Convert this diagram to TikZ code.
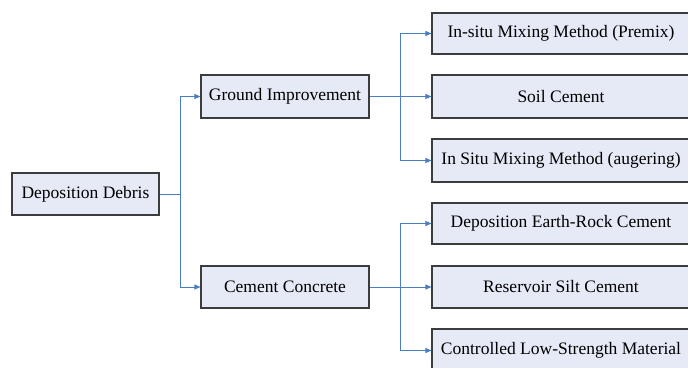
\documentclass[tikz,border=0pt]{standalone}
\usepackage{fontspec}
\setmainfont{Liberation Serif}
\usetikzlibrary{arrows.meta}
\definecolor{boxfill}{HTML}{E6EAF6}
\definecolor{boxline}{HTML}{3C3C3C}
\definecolor{connc}{HTML}{4A7EC0}
\begin{document}
\begin{tikzpicture}[x=1pt,y=-1pt,
  box/.style={draw=boxline, line width=1.1pt, fill=boxfill, inner sep=0pt,
    font=\fontsize{17.5}{20}\selectfont},
  conn/.style={draw=connc, line width=0.9pt},
  arr/.style={conn, -{Triangle[length=6pt,width=5pt]}}]
\useasboundingbox (0,0) rectangle (688,367);
\clip (0,0) rectangle (688,367);
\node[box, minimum width=147pt, minimum height=42pt] (dd) at (85.5,194) {Deposition Debris};
\node[box, minimum width=168pt, minimum height=43pt] (gi) at (285,96.5) {Ground Improvement};
\node[box, minimum width=168pt, minimum height=42pt] (cc) at (285,287) {Cement Concrete};
\node[box, minimum width=258pt, minimum height=41pt] (r1) at (561,33.5) {In-situ Mixing Method (Premix)};
\node[box, minimum width=258pt, minimum height=43pt] (r2) at (561,96.5) {Soil Cement};
\node[box, minimum width=258pt, minimum height=43pt] (r3) at (561,160.5) {In Situ Mixing Method (augering)};
\node[box, minimum width=258pt, minimum height=41pt] (r4) at (561,223.5) {Deposition Earth-Rock Cement};
\node[box, minimum width=258pt, minimum height=42pt] (r5) at (561,287) {Reservoir Silt Cement};
\node[box, minimum width=258pt, minimum height=43pt] (r6) at (561,350.5) {Controlled Low-Strength Material};
\coordinate (j1) at (180,194);
\coordinate (j2) at (400,96.5);
\coordinate (j3) at (400,287);
\draw[conn] (dd.east) -- (j1);
\draw[arr] (j1) |- (gi.west);
\draw[arr] (j1) |- (cc.west);
\draw[conn, line width=1.3pt] (gi.east) -- (j2);
\draw[arr] (j2) |- (r1.west);
\draw[arr] (j2) -- (r2.west);
\draw[arr] (j2) |- (r3.west);
\draw[conn] (cc.east) -- (j3);
\draw[arr] (j3) |- (r4.west);
\draw[arr] (j3) -- (r5.west);
\draw[arr] (j3) |- (r6.west);
\end{tikzpicture}
\end{document}
